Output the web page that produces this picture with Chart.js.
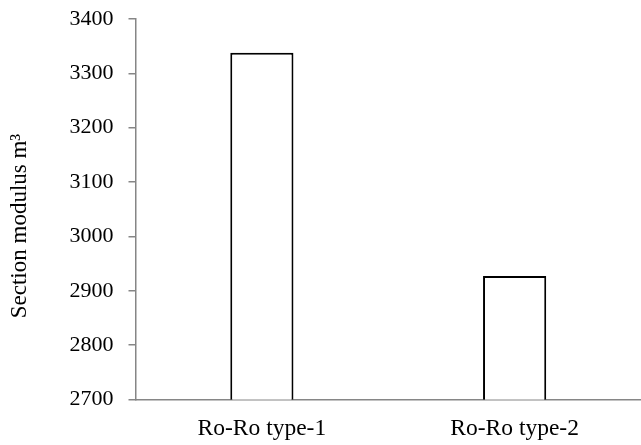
<!DOCTYPE html>
<html>
<head>
<meta charset="utf-8">
<script src="https://cdn.jsdelivr.net/npm/chart.js@4/dist/chart.umd.min.js"></script>
<style>
html,body{margin:0;padding:0;background:#fff;}
#wrap{width:641px;height:445px;position:relative;}
</style>
</head>
<body>
<div id="wrap"><canvas id="c" width="641" height="445"></canvas></div>
<script>
const categories = ["Ro-Ro type-1", "Ro-Ro type-2"];
const values = [3338, 2927];
const yTicks = [2700, 2800, 2900, 3000, 3100, 3200, 3300, 3400];
const yTitle = "Section modulus m\u00B3";

const FONT = "'Liberation Serif', 'Times New Roman', serif";
const AXIS = "#868686";

const titlePlugin = {
  id: 'yTitle',
  afterDraw(chart) {
    const ctx = chart.ctx;
    ctx.save();
    ctx.font = "23px " + FONT;
    ctx.fillStyle = "#000";
    ctx.textAlign = "center";
    ctx.textBaseline = "middle";
    ctx.translate(20, 226);
    ctx.rotate(-Math.PI / 2);
    ctx.fillText(yTitle, 0, 0);
    ctx.restore();
  }
};

new Chart(document.getElementById('c'), {
  type: 'bar',
  data: {
    labels: categories,
    datasets: [{
      data: values,
      backgroundColor: '#ffffff',
      borderColor: '#000000',
      borderWidth: 2,
      borderSkipped: 'bottom',
      categoryPercentage: 1,
      barPercentage: 0.25
    }]
  },
  options: {
    responsive: false,
    animation: false,
    devicePixelRatio: 1,
    layout: { padding: { top: 19, right: 0, bottom: 0, left: 0 } },
    plugins: { legend: { display: false }, tooltip: { enabled: false } },
    scales: {
      x: {
        grid: { display: true, drawOnChartArea: false, drawTicks: false },
        border: { color: AXIS, width: 1.5 },
        ticks: { color: '#000', font: { family: FONT, size: 23.5 }, padding: 15, maxRotation: 0 },
        afterFit(s) { s.height = 45.5; s.paddingLeft = 0; s.paddingRight = 0; }
      },
      y: {
        min: 2700,
        max: 3400,
        afterBuildTicks(s) { s.ticks = yTicks.map(v => ({ value: v })); },
        grid: { display: true, drawOnChartArea: false, drawTicks: true, tickLength: 7, color: AXIS, lineWidth: 1.5 },
        border: { color: AXIS, width: 1.5 },
        ticks: { color: '#000', font: { family: FONT, size: 22 }, padding: 15, callback: (v) => String(v) },
        afterFit(s) { s.width = 135.5; s.paddingTop = 0; s.paddingBottom = 0; }
      }
    }
  },
  plugins: [titlePlugin]
});
</script>
</body>
</html>
